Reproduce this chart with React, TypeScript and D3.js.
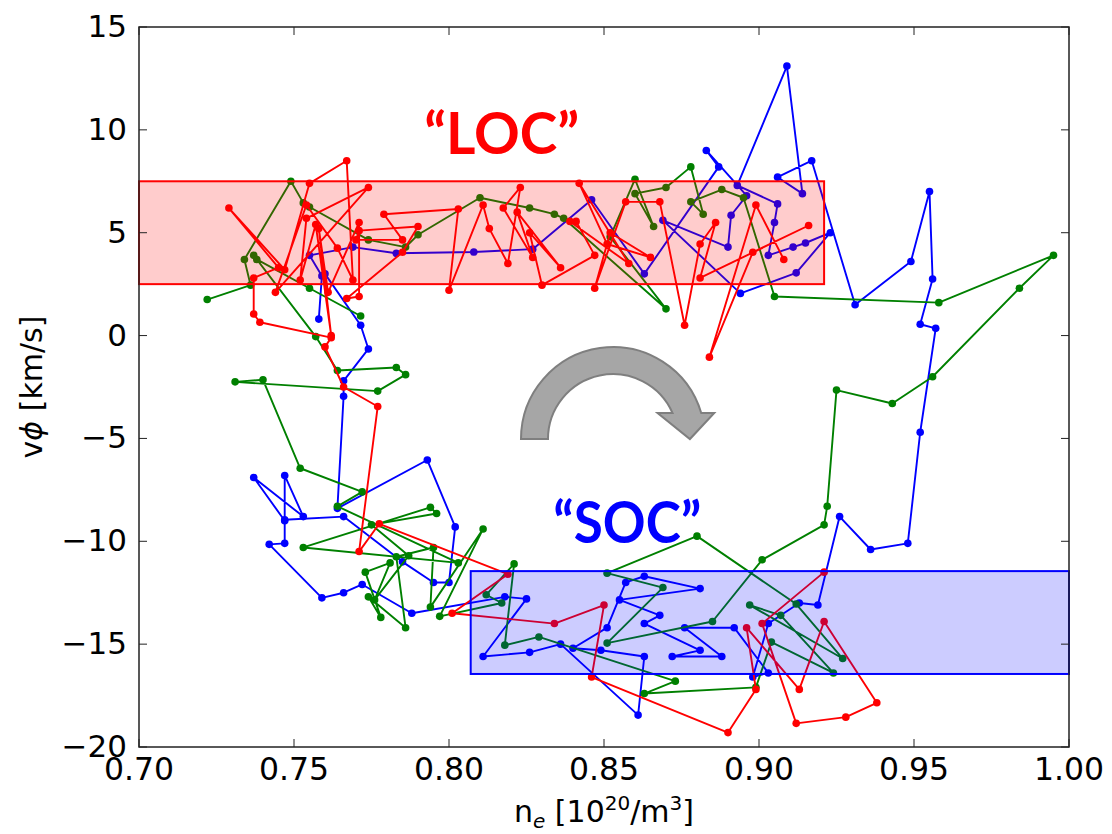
import React from 'react';
import * as d3 from 'd3';

// blue trace (n_e, v_phi)
const blueX = [0.758, 0.759, 0.755, 0.769, 0.783, 0.808, 0.827, 0.846, 0.863, 0.887, 0.883, 0.896, 0.891, 0.890, 0.869, 0.894, 0.912, 0.923, 0.915, 0.911, 0.903, 0.905, 0.906, 0.893, 0.909, 0.914, 0.906, 0.917, 0.931, 0.949, 0.955, 0.956, 0.952, 0.957, 0.952, 0.948, 0.936, 0.926, 0.919, 0.913, 0.903, 0.898, 0.903, 0.892, 0.876, 0.888, 0.872, 0.881, 0.863, 0.868, 0.855, 0.881, 0.863, 0.857, 0.851, 0.840, 0.849, 0.863, 0.861, 0.836, 0.826, 0.811, 0.825, 0.818, 0.788, 0.772, 0.766, 0.759, 0.742, 0.747, 0.747, 0.737, 0.753, 0.747, 0.747, 0.766, 0.785, 0.795, 0.800, 0.802, 0.793, 0.764, 0.766, 0.766, 0.774, 0.7715, 0.760];
const blueY = [0.8, 2.9, 3.9, 4.3, 4.0, 4.06, 4.2, 6.6, 3.0, 8.2, 9.0, 6.8, 5.85, 4.3, 5.6, 2.05, 3.05, 5.0, 4.5, 4.3, 3.9, 5.5, 6.4, 7.3, 13.1, 6.9, 7.7, 8.5, 1.5, 3.6, 7.0, 2.75, 0.55, 0.35, -4.7, -10.1, -10.4, -8.8, -13.1, -13.0, -14.0, -16.6, -16.4, -14.2, -14.2, -15.6, -15.6, -15.3, -14.0, -13.6, -12.85, -12.3, -11.7, -12.0, -14.2, -15.2, -15.3, -15.6, -18.45, -15.0, -15.4, -15.6, -12.8, -12.7, -13.5, -12.1, -12.5, -12.75, -10.15, -10.1, -9.0, -6.9, -8.8, -6.8, -8.95, -8.8, -11.0, -12.0, -12.0, -9.3, -6.05, -8.4, -2.95, -2.2, -0.65, 0.5, 3.0];

// green trace
const greenX = [0.722, 0.736, 0.734, 0.749, 0.753, 0.755, 0.774, 0.786, 0.790, 0.810, 0.826, 0.834, 0.837, 0.870, 0.852, 0.860, 0.866, 0.860, 0.870, 0.878, 0.882, 0.878, 0.888, 0.895, 0.905, 0.958, 0.995, 0.984, 0.956, 0.943, 0.925, 0.922, 0.921, 0.901, 0.885, 0.851, 0.869, 0.851, 0.880, 0.912, 0.927, 0.897, 0.907, 0.924, 0.904, 0.899, 0.863, 0.873, 0.829, 0.818, 0.821, 0.812, 0.817, 0.797, 0.811, 0.794, 0.795, 0.783, 0.786, 0.774, 0.778, 0.773, 0.781, 0.776, 0.787, 0.775, 0.796, 0.794, 0.753, 0.803, 0.764, 0.772, 0.752, 0.740, 0.731, 0.777, 0.786, 0.783, 0.764, 0.757, 0.737, 0.738, 0.755, 0.7715];
const greenY = [1.75, 2.45, 3.7, 7.5, 6.45, 6.25, 4.65, 4.3, 4.9, 6.7, 6.2, 5.9, 5.7, 1.3, 4.8, 7.6, 5.3, 6.9, 7.2, 8.2, 5.9, 6.5, 7.1, 6.7, 1.9, 1.6, 3.9, 2.3, -2.0, -3.3, -2.65, -8.3, -9.2, -10.9, -13.9, -14.95, -12.25, -11.55, -9.75, -13.05, -15.7, -13.1, -13.6, -16.4, -14.9, -17.1, -17.4, -16.8, -14.65, -15.05, -11.1, -12.6, -13.0, -13.65, -9.4, -13.2, -10.3, -10.75, -14.2, -12.7, -13.7, -11.5, -11.05, -12.85, -10.7, -9.2, -8.65, -8.35, -10.3, -11.05, -8.3, -7.6, -6.45, -2.15, -2.25, -2.7, -1.9, -1.55, -1.7, -0.05, 3.9, 3.7, 2.3, 0.95];

// red trace
const redX = [0.908, 0.899, 0.884, 0.898, 0.916, 0.881, 0.886, 0.881, 0.876, 0.868, 0.857, 0.847, 0.852, 0.865, 0.851, 0.842, 0.858, 0.839, 0.841, 0.847, 0.830, 0.826, 0.836, 0.822, 0.827, 0.8175, 0.823, 0.819, 0.813, 0.811, 0.800, 0.803, 0.779, 0.785, 0.770, 0.771, 0.790, 0.785, 0.767, 0.771, 0.771, 0.761, 0.758, 0.762, 0.757, 0.752, 0.754, 0.774, 0.744, 0.754, 0.764, 0.769, 0.767, 0.755, 0.747, 0.729, 0.745, 0.737, 0.737, 0.739, 0.762, 0.760, 0.766, 0.777, 0.771, 0.7775, 0.819, 0.801, 0.834, 0.850, 0.846, 0.890, 0.899, 0.896, 0.913, 0.921, 0.938, 0.928, 0.912, 0.901, 0.921];
const redY = [3.7, 6.35, -1.05, 4.05, 5.35, 2.8, 5.5, 4.45, 0.5, 6.5, 6.5, 2.3, 5.0, 3.8, 4.45, 7.4, 3.5, 5.55, 5.55, 3.9, 2.45, 5.0, 3.3, 6.0, 3.8, 6.2, 7.2, 3.5, 5.2, 6.35, 2.2, 6.15, 5.9, 4.65, 4.65, 5.1, 5.3, 4.05, 1.8, 1.9, 5.5, 2.1, 5.2, 0.0, 5.4, 2.7, 5.7, 7.2, 2.1, 6.35, 4.25, 2.7, 8.5, 7.4, 3.2, 6.2, 3.3, 2.8, 1.05, 0.65, -0.1, -0.55, -2.5, -3.45, -10.5, -9.15, -11.6, -13.5, -14.0, -13.1, -16.6, -19.3, -17.2, -14.2, -17.2, -13.9, -17.85, -18.55, -18.85, -14.0, -11.5];

const xTicks = [0.7, 0.75, 0.8, 0.85, 0.9, 0.95, 1.0];
const yTicks = [-20, -15, -10, -5, 0, 5, 10, 15];

// shaded regimes [x0, x1, y0, y1]
const locBox = [0.7, 0.921, 2.5, 7.5];
const socBox = [0.807, 1.0, -16.45, -11.45];

const W = 1112;
const H = 834;
const M = { left: 139, right: 1069, top: 27, bottom: 747 };
const font = 'DejaVu Sans, sans-serif';

const series = [
  { xs: blueX, ys: blueY, color: '#0000ff' },
  { xs: greenX, ys: greenY, color: '#008000' },
  { xs: redX, ys: redY, color: '#ff0000' },
];

export default function App() {
  const x = d3.scaleLinear().domain([0.7, 1.0]).range([M.left, M.right]);
  const y = d3.scaleLinear().domain([-20, 15]).range([M.bottom, M.top]);
  const line = d3.line<[number, number]>().x(d => x(d[0])).y(d => y(d[1]));

  const fmtY = (v: number) => (v < 0 ? '\u2212' + Math.abs(v) : String(v));

  // curved arrow, centred in data space
  const cx = x(0.8529);
  const cy = y(-5.03);
  const rO = 92;
  const rI = 65;
  const endDy = 26;
  const oEnd = cx + Math.sqrt(rO * rO - endDy * endDy);
  const iEnd = cx + Math.sqrt(rI * rI - endDy * endDy);
  const arrow = `M${cx - rO},${cy} A${rO},${rO} 0 0 1 ${oEnd},${cy - endDy} L${oEnd + 13},${cy - endDy} L${(oEnd + iEnd) / 2 + 3},${cy} L${iEnd - 15},${cy - endDy} L${iEnd},${cy - endDy} A${rI},${rI} 0 0 0 ${cx - rI},${cy} Z`;

  const box = (b: number[], fill: string, stroke: string) => (
    <rect
      x={x(b[0])}
      y={y(b[3])}
      width={x(b[1]) - x(b[0])}
      height={y(b[2]) - y(b[3])}
      fill={fill}
      fillOpacity={0.2}
      stroke={stroke}
      strokeWidth={2}
    />
  );

  return (
    <svg width={W} height={H} style={{ position: 'absolute', left: 0, top: 0, background: '#fff' }}>
      {series.map((s, i) => {
        const pts = s.xs.map((v, j) => [v, s.ys[j]] as [number, number]);
        return (
          <g key={i}>
            <path d={line(pts) || ''} fill="none" stroke={s.color} strokeWidth={1.9} strokeLinejoin="round" />
            {pts.map((p, j) => (
              <circle key={j} cx={x(p[0])} cy={y(p[1])} r={3.8} fill={s.color} />
            ))}
          </g>
        );
      })}

      {box(locBox, '#ff0000', '#ff0000')}
      {box(socBox, '#0000ff', '#0000ff')}

      {/* frame and inward ticks */}
      <rect x={M.left} y={M.top} width={M.right - M.left} height={M.bottom - M.top} fill="none" stroke="#222" strokeWidth={1.5} />
      {xTicks.map(t => (
        <g key={'x' + t}>
          <line x1={x(t)} x2={x(t)} y1={M.bottom} y2={M.bottom - 8} stroke="#222" />
          <line x1={x(t)} x2={x(t)} y1={M.top} y2={M.top + 8} stroke="#222" />
          <text x={x(t)} y={780} textAnchor="middle" fontFamily={font} fontSize={31.5} fill="#000">
            {t.toFixed(2)}
          </text>
        </g>
      ))}
      {yTicks.map(t => (
        <g key={'y' + t}>
          <line x1={M.left} x2={M.left + 8} y1={y(t)} y2={y(t)} stroke="#222" />
          <line x1={M.right} x2={M.right - 8} y1={y(t)} y2={y(t)} stroke="#222" />
          <text x={127} y={y(t) + 10} textAnchor="end" fontFamily={font} fontSize={31} fill="#000">
            {fmtY(t)}
          </text>
        </g>
      ))}

      <text transform={`translate(42,${(M.top + M.bottom) / 2}) rotate(-90)`} textAnchor="middle" fontFamily={font} fontSize={30} fill="#000">
        v<tspan fontStyle="italic">ϕ</tspan> [km/s]
      </text>
      <text x={(M.left + M.right) / 2} y={822} textAnchor="middle" fontFamily={font} fontSize={30} fill="#000">
        n<tspan fontStyle="italic" fontSize={20} dy={6}>e</tspan>
        <tspan dy={-6}> [10</tspan>
        <tspan fontSize={20} dy={-12}>20</tspan>
        <tspan dy={12}>/m</tspan>
        <tspan fontSize={20} dy={-12}>3</tspan>
        <tspan dy={12}>]</tspan>
      </text>

      <path d={arrow} fill="#a6a6a6" stroke="#7f7f7f" strokeWidth={2} />

      <text x={x(0.817)} y={y(8.83)} textAnchor="middle" fontFamily="Lato, Open Sans, sans-serif" fontWeight="bold" fontSize={57} fill="#ff0000" textLength={155} lengthAdjust="spacingAndGlyphs">
        “LOC”
      </text>
      <text x={x(0.8575)} y={y(-10.08)} textAnchor="middle" fontFamily="Lato, Open Sans, sans-serif" fontWeight="bold" fontSize={57} fill="#0000ff" textLength={148} lengthAdjust="spacingAndGlyphs">
        “SOC”
      </text>
    </svg>
  );
}
